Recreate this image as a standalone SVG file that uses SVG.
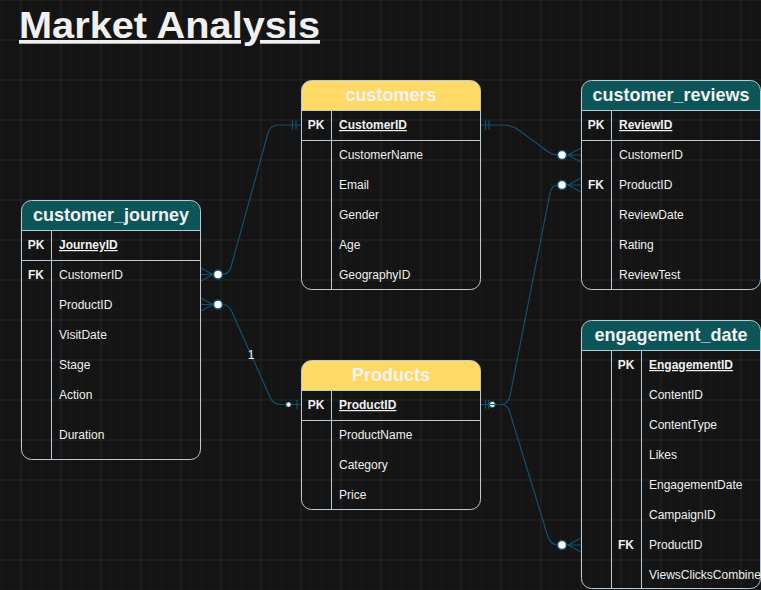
<svg xmlns="http://www.w3.org/2000/svg" width="761" height="590" viewBox="0 0 761 590">
<defs>
<pattern id="minor" x="0.5" y="-0.5" width="10" height="10" patternUnits="userSpaceOnUse">
<path d="M0 0 H10 M0 0 V10" stroke="#1d1d1d" stroke-width="1" fill="none"/>
</pattern>
<pattern id="major" x="20.5" y="39.5" width="40" height="40" patternUnits="userSpaceOnUse">
<path d="M0 0 H40 M0 0 V40" stroke="#2f2f2f" stroke-width="1" fill="none"/>
</pattern>
<style>
.frame{fill:none;stroke:#b9cad6;stroke-width:1}
.ln{stroke:#b9cad6;stroke-width:1;fill:none}
.hy{fill:#ffd966}
.ht{fill:#0c5558}
.title{font-family:"Liberation Sans",Arial,sans-serif;font-weight:bold;font-size:18px;fill:#f2f2f2;text-anchor:middle}
.row{font-family:"Liberation Sans",Arial,sans-serif;font-size:12px;fill:#f0f0f0}
.key{font-family:"Liberation Sans",Arial,sans-serif;font-size:12px;font-weight:bold;fill:#f0f0f0;text-anchor:middle}
.pk{text-decoration:underline;font-weight:bold}
.edge{fill:none;stroke:#10506e;stroke-width:1.2}
.circ{fill:#ffffff;stroke:#10506e;stroke-width:1.5}
</style>
</defs>
<rect width="761" height="590" fill="#141414"/>
<rect width="761" height="590" fill="url(#minor)"/>
<rect width="761" height="590" fill="url(#major)"/>

<text x="19" y="38" font-family="Liberation Sans,Arial,sans-serif" font-weight="bold" font-size="37" fill="#f0f0f0" text-decoration="underline" textLength="301" lengthAdjust="spacingAndGlyphs">Market Analysis</text>

<g id="connectors">
<!-- journey.CustomerID -> customers.CustomerID -->
<path class="edge" d="M201 268 L213 274.5 L201 281 M201 274.5 H218 M222 274.5 Q229 274.5 231 267 L268 133 Q270 125 279 125 L301 125 M292.5 120.5 V129.5 M296 120.5 V129.5"/>
<circle class="circ" cx="218" cy="274.5" r="4.5"/>
<!-- journey.ProductID -> Products.ProductID -->
<path class="edge" d="M201 298 L213 304.5 L201 311 M201 304.5 H218 M222 304.5 Q229 304.5 232 312 L270 397 Q273 404.5 281 404.5 L301 404.5 M297 400 V409"/>
<circle class="circ" cx="218" cy="304.5" r="4.5"/>
<circle cx="288.5" cy="404.5" r="2.6" fill="#ffffff" stroke="#10506e" stroke-width="1"/>
<text x="251" y="359" font-family="Liberation Sans,Arial,sans-serif" font-size="12" fill="#f0f0f0" text-anchor="middle">1</text>
<!-- customers.CustomerID -> reviews.CustomerID -->
<path class="edge" d="M481 125 H503 Q512 125 520 131 L543 148 Q551 155 558 155 M581 148 L568 155 L581 162 M581 155 H566 M485.5 120.5 V129.5 M489 120.5 V129.5"/>
<circle class="circ" cx="562" cy="155" r="4.5"/>
<!-- Products.ProductID -> reviews.ProductID -->
<path class="edge" d="M481 404.5 H501 Q508 404.5 510 396 L550 193 Q552 185 558 185 M581 178 L568 185 L581 192 M581 185 H566"/>
<circle class="circ" cx="562" cy="185" r="4.5"/>
<!-- Products.ProductID -> engagement.ProductID -->
<path class="edge" d="M501 404.5 Q508 404.5 510 413 L548 537 Q551 545 558 545 M581 538 L568 545 L581 552 M581 545 H566"/>
<circle class="circ" cx="562" cy="545" r="4.5"/>
<path class="edge" d="M485.5 400 V409 M488.5 400 V409"/>
<circle cx="492.3" cy="404.5" r="3" fill="#ffffff" stroke="#10506e" stroke-width="1"/>
<path d="M489.5 404.5 H495" stroke="#10506e" stroke-width="1"/>
</g>

<g id="customers">
<path class="hy" d="M301.5 110.5 V90.5 A10 10 0 0 1 311.5 80.5 H470.5 A10 10 0 0 1 480.5 90.5 V110.5 Z"/>
<rect class="frame" x="301.5" y="80.5" width="179" height="209" rx="10"/>
<path class="ln" d="M301.5 110.5 H480.5 M301.5 140.5 H480.5 M331.5 110.5 V289.5"/>
<text class="title" x="391" y="101">customers</text>
<text class="key" x="316" y="129">PK</text>
<text class="row pk" x="339" y="129">CustomerID</text>
<text class="row" x="339" y="159">CustomerName</text>
<text class="row" x="339" y="189">Email</text>
<text class="row" x="339" y="219">Gender</text>
<text class="row" x="339" y="249">Age</text>
<text class="row" x="339" y="279">GeographyID</text>
</g>

<g id="customer_reviews">
<path class="ht" d="M581.5 110.5 V90.5 A10 10 0 0 1 591.5 80.5 H750.5 A10 10 0 0 1 760.5 90.5 V110.5 Z"/>
<rect class="frame" x="581.5" y="80.5" width="179" height="209" rx="10"/>
<path class="ln" d="M581.5 110.5 H760.5 M581.5 140.5 H760.5 M611.5 110.5 V289.5"/>
<text class="title" x="671" y="101">customer_reviews</text>
<text class="key" x="596" y="129">PK</text>
<text class="row pk" x="619" y="129">ReviewID</text>
<text class="row" x="619" y="159">CustomerID</text>
<text class="key" x="596" y="189">FK</text>
<text class="row" x="619" y="189">ProductID</text>
<text class="row" x="619" y="219">ReviewDate</text>
<text class="row" x="619" y="249">Rating</text>
<text class="row" x="619" y="279">ReviewTest</text>
</g>

<g id="customer_journey">
<path class="ht" d="M21.5 230.5 V210.5 A10 10 0 0 1 31.5 200.5 H190.5 A10 10 0 0 1 200.5 210.5 V230.5 Z"/>
<rect class="frame" x="21.5" y="200.5" width="179" height="259" rx="10"/>
<path class="ln" d="M21.5 230.5 H200.5 M21.5 260.5 H200.5 M51.5 230.5 V459.5"/>
<text class="title" x="111" y="221">customer_journey</text>
<text class="key" x="36" y="249">PK</text>
<text class="row pk" x="59" y="249">JourneyID</text>
<text class="key" x="36" y="279">FK</text>
<text class="row" x="59" y="279">CustomerID</text>
<text class="row" x="59" y="309">ProductID</text>
<text class="row" x="59" y="339">VisitDate</text>
<text class="row" x="59" y="369">Stage</text>
<text class="row" x="59" y="399">Action</text>
<text class="row" x="59" y="439">Duration</text>
</g>

<g id="products">
<path class="hy" d="M301.5 390.5 V370.5 A10 10 0 0 1 311.5 360.5 H470.5 A10 10 0 0 1 480.5 370.5 V390.5 Z"/>
<rect class="frame" x="301.5" y="360.5" width="179" height="149" rx="10"/>
<path class="ln" d="M301.5 390.5 H480.5 M301.5 420.5 H480.5 M331.5 390.5 V509.5"/>
<text class="title" x="391" y="381">Products</text>
<text class="key" x="316" y="409">PK</text>
<text class="row pk" x="339" y="409">ProductID</text>
<text class="row" x="339" y="439">ProductName</text>
<text class="row" x="339" y="469">Category</text>
<text class="row" x="339" y="499">Price</text>
</g>

<g id="engagement_date">
<path class="ht" d="M581.5 350.5 V330.5 A10 10 0 0 1 591.5 320.5 H750.5 A10 10 0 0 1 760.5 330.5 V350.5 Z"/>
<rect class="frame" x="581.5" y="320.5" width="179" height="268" rx="10"/>
<path class="ln" d="M581.5 350.5 H760.5 M611.5 350.5 V588.5 M641.5 350.5 V588.5"/>
<text class="title" x="671" y="341">engagement_date</text>
<text class="key" x="626" y="369">PK</text>
<text class="row pk" x="649" y="369">EngagementID</text>
<text class="row" x="649" y="399">ContentID</text>
<text class="row" x="649" y="429">ContentType</text>
<text class="row" x="649" y="459">Likes</text>
<text class="row" x="649" y="489">EngagementDate</text>
<text class="row" x="649" y="519">CampaignID</text>
<text class="key" x="626" y="549">FK</text>
<text class="row" x="649" y="549">ProductID</text>
<text class="row" x="649" y="579">ViewsClicksCombine</text>
</g>
</svg>
